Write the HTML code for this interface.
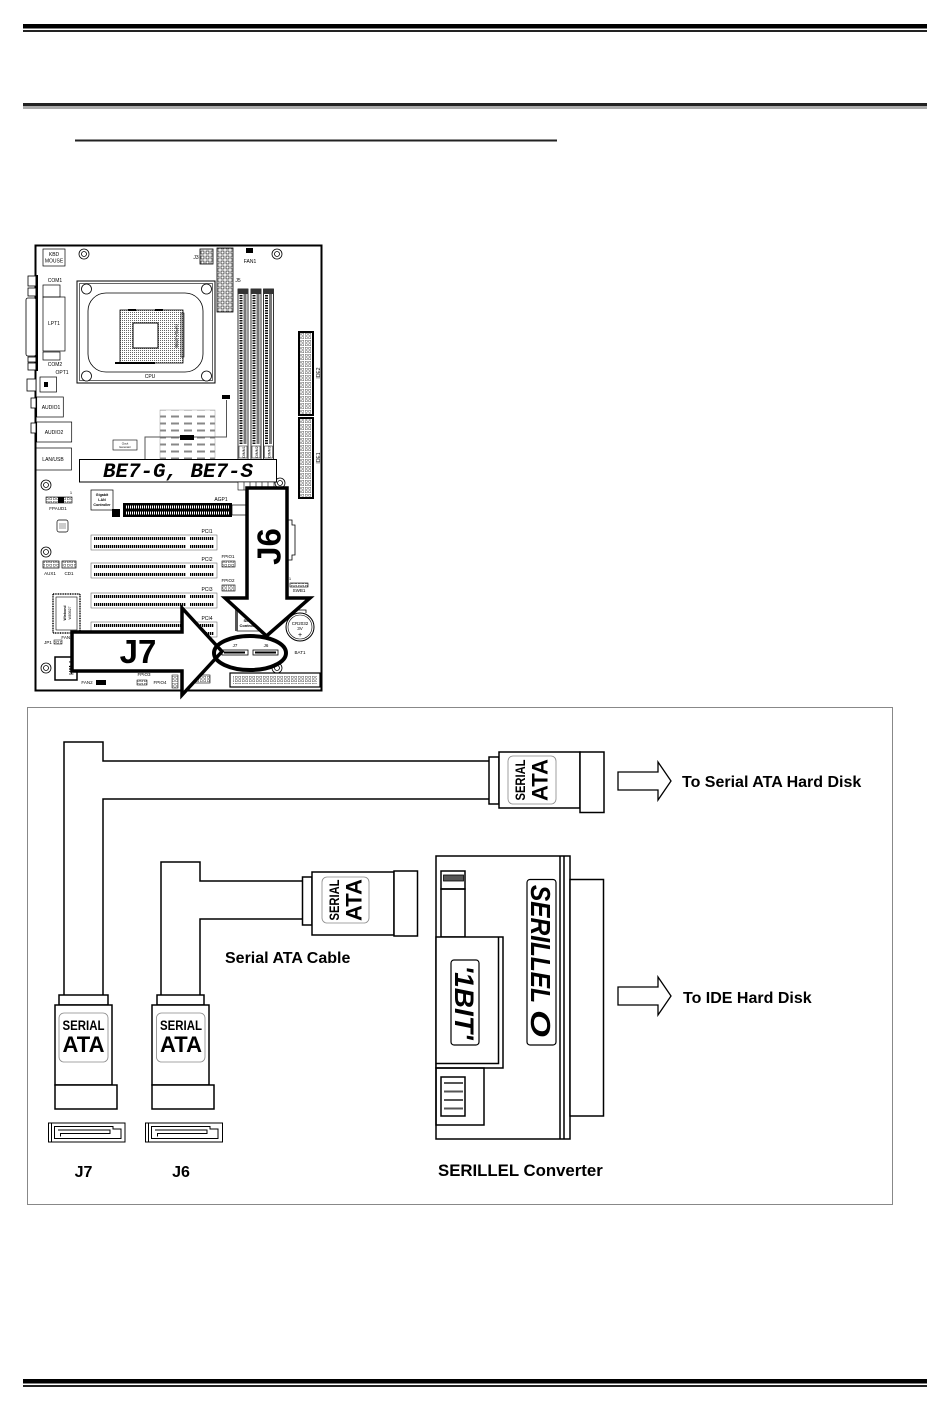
<!DOCTYPE html>
<html><head><meta charset="utf-8"><style>
html,body{margin:0;padding:0;background:#fff;}
svg{display:block}
text{font-family:"Liberation Sans",Arial,sans-serif;}
text.mono{font-family:"Liberation Mono","DejaVu Sans Mono",monospace;}
</style></head><body>
<svg width="950" height="1411" viewBox="0 0 950 1411" xmlns="http://www.w3.org/2000/svg">
<defs>
 <pattern id="dots" width="2" height="2" patternUnits="userSpaceOnUse"><rect width="2" height="2" fill="#fff"/><rect width="1" height="1" fill="#666"/></pattern>
 <pattern id="pins" width="3.5" height="3.5" patternUnits="userSpaceOnUse"><rect width="3.5" height="3.5" fill="#fff"/><rect x="0.8" y="0.8" width="1.9" height="1.9" fill="#fff" stroke="#333" stroke-width="0.4"/></pattern>
 <pattern id="pinsL" width="5" height="5" patternUnits="userSpaceOnUse"><rect width="5" height="5" fill="#fff"/><rect x="1" y="1" width="3" height="3" fill="#fff" stroke="#000" stroke-width="0.6"/></pattern>
 <pattern id="hs" width="13" height="7" patternUnits="userSpaceOnUse"><rect width="13" height="7" fill="#fff"/><rect x="2" y="2.5" width="8" height="2" fill="#888"/></pattern>
 <pattern id="pcid" width="2" height="4" patternUnits="userSpaceOnUse"><rect width="1.3" height="4" fill="#000"/></pattern>
 <pattern id="wd" width="2" height="4" patternUnits="userSpaceOnUse"><rect width="2" height="4" fill="#000"/><rect width="1" height="4" fill="#fff"/></pattern>
 <pattern id="dimm" width="4" height="2.5" patternUnits="userSpaceOnUse"><rect width="4" height="2.5" fill="#fff"/><rect width="4" height="1.5" fill="#111"/></pattern>
</defs>

<!-- header lines -->
<rect x="23" y="24" width="904" height="4.5" fill="#000"/>
<rect x="23" y="30" width="904" height="2" fill="#222"/>
<rect x="23" y="103" width="904" height="3" fill="#222"/>
<rect x="23" y="106" width="904" height="3" fill="#aaa"/>
<rect x="75" y="139.5" width="482" height="2" fill="#222"/>

<!-- footer lines -->
<rect x="23" y="1379" width="904" height="4.5" fill="#000"/>
<rect x="23" y="1385" width="904" height="2" fill="#222"/>

<!-- ================= MOTHERBOARD ================= -->
<rect x="35.5" y="245.5" width="286" height="445" fill="#fff" stroke="#000" stroke-width="2"/>

<!-- left ports protruding -->
<g stroke="#000" stroke-width="0.8" fill="#fff">
 <rect x="28" y="276" width="8" height="10"/>
 <rect x="28" y="288" width="8" height="8"/>
 <rect x="26" y="298" width="10" height="58" rx="2"/>
 <rect x="28" y="357" width="8" height="5"/>
 <rect x="28" y="363" width="8" height="7"/>
 <rect x="27" y="379" width="9" height="12"/>
 <rect x="31" y="398" width="5" height="10"/>
 <rect x="31" y="423" width="5" height="10"/>
</g>
<rect x="35.5" y="275" width="2.5" height="96" fill="#000"/>

<g fill="none" stroke="#000" stroke-width="0.7">
 <rect x="43" y="249" width="22" height="17"/>
 <rect x="43" y="285" width="17" height="12"/>
 <rect x="43" y="297" width="22" height="54"/>
 <rect x="43" y="352" width="17" height="8"/>
 <rect x="40" y="377" width="16.5" height="15"/>
 <rect x="36.7" y="397" width="26.6" height="20"/>
 <rect x="36.7" y="422" width="35" height="20"/>
 <rect x="35.5" y="448" width="36" height="22"/>
</g>
<rect x="44" y="382" width="4" height="5" fill="#000"/>
<g font-size="5" fill="#000" text-anchor="middle">
 <text x="54" y="256">KBD</text>
 <text x="54" y="262.5">MOUSE</text>
 <text x="55" y="282">COM1</text>
 <text x="54" y="325">LPT1</text>
 <text x="55" y="366">COM2</text>
 <text x="62" y="374">OPT1</text>
 <text x="51" y="409">AUDIO1</text>
 <text x="54" y="434">AUDIO2</text>
 <text x="53" y="461">LAN/USB</text>
</g>

<!-- mounting holes -->
<g fill="#fff" stroke="#000" stroke-width="0.8">
 <circle cx="84" cy="254" r="5"/><circle cx="84" cy="254" r="2.5"/>
 <circle cx="277" cy="254" r="5"/><circle cx="277" cy="254" r="2.5"/>
 <circle cx="46" cy="485" r="5"/><circle cx="46" cy="485" r="2.5"/>
 <circle cx="46" cy="552" r="5"/><circle cx="46" cy="552" r="2.5"/>
 <circle cx="46" cy="668" r="5"/><circle cx="46" cy="668" r="2.5"/>
 <circle cx="277" cy="668" r="5"/><circle cx="277" cy="668" r="2.5"/>
 <circle cx="280" cy="483" r="5"/><circle cx="280" cy="483" r="2.5"/>
</g>

<!-- CPU -->
<rect x="77" y="281" width="138" height="102" fill="#fff" stroke="#000" stroke-width="1"/>
<rect x="79.5" y="283.5" width="133" height="97" fill="none" stroke="#000" stroke-width="0.6"/>
<rect x="88" y="293" width="115" height="79" rx="18" fill="none" stroke="#000" stroke-width="0.8"/>
<g fill="#fff" stroke="#000" stroke-width="0.8">
 <circle cx="86.5" cy="289" r="5"/><circle cx="206.5" cy="289" r="5"/>
 <circle cx="86.5" cy="376" r="5"/><circle cx="206.5" cy="376" r="5"/>
</g>
<rect x="120" y="310" width="63" height="53" fill="url(#dots)" stroke="#000" stroke-width="0.8"/>
<rect x="133" y="323" width="25" height="25" fill="#fff" stroke="#000" stroke-width="1"/>
<rect x="128" y="309" width="8" height="2" fill="#000"/>
<rect x="155" y="309" width="8" height="2" fill="#000"/>
<rect x="115" y="362" width="40" height="2" fill="#000"/>
<rect x="181" y="313" width="3" height="44" fill="none" stroke="#000" stroke-width="0.6"/>
<text x="150" y="378" font-size="5" text-anchor="middle">CPU</text>
<text transform="translate(175,336) rotate(90)" font-size="4.5" text-anchor="middle">mPGA478B</text>

<!-- J3, J5, FAN1 -->
<rect x="200" y="249" width="13" height="15" fill="url(#pinsL)" stroke="#000" stroke-width="0.8"/>
<text x="196" y="259" font-size="5" text-anchor="middle">J3</text>
<rect x="217" y="248" width="16" height="64" fill="url(#pinsL)" stroke="#000" stroke-width="0.8"/>
<text x="238" y="282" font-size="5" text-anchor="middle">J5</text>
<rect x="246" y="248" width="7" height="5" fill="#000"/>
<text x="250" y="263" font-size="5" text-anchor="middle">FAN1</text>

<!-- DIMMs -->
<g>
 <rect x="238" y="289" width="10" height="173" fill="#fff" stroke="#000" stroke-width="0.8"/>
 <rect x="239.5" y="294" width="3" height="150" fill="url(#dimm)"/>
 <rect x="243.5" y="294" width="3" height="150" fill="#777"/>
 <rect x="238" y="289" width="10" height="5" fill="#333"/>
 <rect x="251" y="289" width="10" height="173" fill="#fff" stroke="#000" stroke-width="0.8"/>
 <rect x="252.5" y="294" width="3" height="150" fill="url(#dimm)"/>
 <rect x="256.5" y="294" width="3" height="150" fill="#777"/>
 <rect x="251" y="289" width="10" height="5" fill="#333"/>
 <rect x="263.5" y="289" width="10" height="173" fill="#fff" stroke="#000" stroke-width="0.8"/>
 <rect x="265" y="294" width="3" height="150" fill="url(#dimm)"/>
 <rect x="269" y="294" width="3" height="150" fill="#777"/>
 <rect x="263.5" y="289" width="10" height="5" fill="#333"/>
 <rect x="239" y="446" width="8" height="12" fill="#fff" stroke="#000" stroke-width="0.5"/>
 <rect x="252" y="446" width="8" height="12" fill="#fff" stroke="#000" stroke-width="0.5"/>
 <rect x="264.5" y="446" width="8" height="12" fill="#fff" stroke="#000" stroke-width="0.5"/>
 <text transform="translate(245,452) rotate(-90)" font-size="3.5" text-anchor="middle">DIMM1</text>
 <text transform="translate(258,452) rotate(-90)" font-size="3.5" text-anchor="middle">DIMM2</text>
 <text transform="translate(270.5,452) rotate(-90)" font-size="3.5" text-anchor="middle">DIMM3</text>
</g>

<!-- IDE -->
<rect x="299" y="332" width="14" height="83" fill="url(#pins)" stroke="#000" stroke-width="2"/>
<text transform="translate(320,373) rotate(-90)" font-size="5" text-anchor="middle">IDE2</text>
<rect x="299" y="418" width="14" height="80" fill="url(#pins)" stroke="#000" stroke-width="2"/>
<text transform="translate(320,458) rotate(-90)" font-size="5" text-anchor="middle">IDE1</text>

<!-- Northbridge heatsink -->
<rect x="160" y="410" width="55" height="51" fill="url(#hs)" stroke="#999" stroke-width="0.5"/>
<rect x="180" y="435" width="14" height="5" fill="#000"/>
<path d="M145 461 V437 H180 M194 437 H215 M226.5 400 V437 H215" fill="none" stroke="#555" stroke-width="1"/>
<rect x="222" y="395" width="8" height="4" fill="#000"/>
<rect x="113" y="440" width="24" height="10" fill="#fff" stroke="#000" stroke-width="0.6"/>
<text x="125" y="444.5" font-size="2.6" text-anchor="middle">Clock</text>
<text x="125" y="448" font-size="2.6" text-anchor="middle">Generator</text>

<!-- model label -->
<rect x="79.5" y="459.5" width="197" height="22.5" fill="#fff" stroke="#000" stroke-width="1"/>
<text class="mono" x="103" y="477" font-size="20.5" font-weight="bold" font-style="italic" fill="#000" textLength="150" lengthAdjust="spacingAndGlyphs">BE7-G, BE7-S</text>

<!-- row below label -->
<rect x="238" y="482" width="36" height="8" fill="#fff" stroke="#000" stroke-width="0.6"/>
<path d="M244 482V490M250 482V490M256 482V490M262 482V490M268 482V490" stroke="#000" stroke-width="0.6"/>

<!-- Gigabit LAN -->
<rect x="91" y="490" width="22" height="20" fill="#fff" stroke="#000" stroke-width="0.7"/>
<g font-size="3.6" font-weight="bold" text-anchor="middle">
 <text x="102" y="496">Gigabit</text><text x="102" y="501">LAN</text><text x="102" y="506">Controller</text>
</g>
<!-- FPAUD1 -->
<rect x="46" y="497" width="26" height="6" fill="url(#pins)" stroke="#000" stroke-width="0.6"/>
<rect x="58" y="497" width="6" height="6" fill="#000"/>
<text x="58" y="510" font-size="4.5" text-anchor="middle">FPAUD1</text>
<text x="71" y="494" font-size="4" text-anchor="middle">1</text>
<rect x="57" y="520" width="11" height="12" rx="2" fill="#fff" stroke="#000" stroke-width="0.7"/>
<rect x="59" y="523" width="7" height="6" fill="#ccc"/>

<!-- AGP -->
<rect x="112" y="509" width="8" height="8" fill="#000"/>
<rect x="123" y="503" width="109" height="14" fill="#000"/>
<rect x="126" y="505.5" width="103" height="3" fill="url(#wd)"/>
<rect x="126" y="511.5" width="103" height="3" fill="url(#wd)"/>
<rect x="232" y="505" width="15" height="10" fill="#fff" stroke="#000" stroke-width="0.7"/>
<text x="221" y="501" font-size="5" text-anchor="middle">AGP1</text>

<!-- PCI slots -->
<g>
 <rect x="91" y="535" width="126" height="15" fill="#fff" stroke="#555" stroke-width="0.5"/>
 <rect x="94" y="537" width="92" height="3" fill="url(#pcid)"/><rect x="94" y="545" width="92" height="3" fill="url(#pcid)"/>
 <rect x="190" y="537" width="24" height="3" fill="url(#pcid)"/><rect x="190" y="545" width="24" height="3" fill="url(#pcid)"/>
 <rect x="91" y="563" width="126" height="15" fill="#fff" stroke="#555" stroke-width="0.5"/>
 <rect x="94" y="565" width="92" height="3" fill="url(#pcid)"/><rect x="94" y="573" width="92" height="3" fill="url(#pcid)"/>
 <rect x="190" y="565" width="24" height="3" fill="url(#pcid)"/><rect x="190" y="573" width="24" height="3" fill="url(#pcid)"/>
 <rect x="91" y="593" width="126" height="15" fill="#fff" stroke="#555" stroke-width="0.5"/>
 <rect x="94" y="595" width="92" height="3" fill="url(#pcid)"/><rect x="94" y="603" width="92" height="3" fill="url(#pcid)"/>
 <rect x="190" y="595" width="24" height="3" fill="url(#pcid)"/><rect x="190" y="603" width="24" height="3" fill="url(#pcid)"/>
 <rect x="91" y="622" width="126" height="15" fill="#fff" stroke="#555" stroke-width="0.5"/>
 <rect x="94" y="624" width="92" height="3" fill="url(#pcid)"/><rect x="94" y="632" width="92" height="3" fill="url(#pcid)"/>
 <rect x="190" y="624" width="24" height="3" fill="url(#pcid)"/><rect x="190" y="632" width="24" height="3" fill="url(#pcid)"/>
</g>
<g font-size="5" text-anchor="middle">
 <text x="207" y="533">PCI1</text><text x="207" y="561">PCI2</text><text x="207" y="591">PCI3</text><text x="207" y="620">PCI4</text>
</g>

<!-- AUX1 CD1 -->
<rect x="43" y="561" width="16" height="7" fill="url(#pins)" stroke="#000" stroke-width="0.7"/>
<rect x="62" y="561" width="14" height="7" fill="url(#pins)" stroke="#000" stroke-width="0.7"/>
<text x="50" y="575" font-size="4.5" text-anchor="middle">AUX1</text>
<text x="69" y="575" font-size="4.5" text-anchor="middle">CD1</text>

<!-- FPIO1, FPIO2, SWB1 -->
<rect x="222" y="561" width="13" height="6" fill="url(#pins)" stroke="#000" stroke-width="0.6"/>
<text x="228" y="558" font-size="4.5" text-anchor="middle">FPIO1</text>
<rect x="222" y="585" width="13" height="6" fill="url(#pins)" stroke="#000" stroke-width="0.6"/>
<text x="228" y="582" font-size="4.5" text-anchor="middle">FPIO2</text>
<rect x="290" y="583" width="18" height="4" fill="url(#pins)" stroke="#000" stroke-width="0.6"/>
<text x="299" y="592" font-size="4.5" text-anchor="middle">SWB1</text>
<text x="290" y="580" font-size="4" text-anchor="middle">1</text>
<path d="M288 520 H292 V525 H295 V555 H292 V560 H288" fill="none" stroke="#000" stroke-width="0.8"/>

<!-- Winbond -->
<rect x="53" y="594" width="27" height="39" fill="#fff" stroke="#000" stroke-width="1.5" stroke-dasharray="1 0.7"/>
<rect x="56" y="597" width="21" height="33" fill="#fff" stroke="#000" stroke-width="0.6"/>
<text transform="translate(66,613) rotate(-90)" font-size="3.5" text-anchor="middle" font-weight="bold">Winbond</text>
<text transform="translate(71,613) rotate(-90)" font-size="3.5" text-anchor="middle">W83627</text>
<text x="67" y="639" font-size="4.5" text-anchor="middle">FAN3</text>
<text x="48" y="644" font-size="4.5" text-anchor="middle">JP1</text>
<rect x="54" y="640" width="8" height="4" fill="url(#pins)" stroke="#000" stroke-width="0.5"/>
<rect x="55" y="657" width="22" height="23" fill="#fff" stroke="#000" stroke-width="1.5"/>
<text transform="translate(69,668) rotate(90)" font-size="6" font-weight="bold" text-anchor="middle">FWH</text>
<text x="87" y="684" font-size="4.5" text-anchor="middle">FAN2</text>
<rect x="96" y="680" width="10" height="5" fill="#000"/>
<text x="144" y="676" font-size="4.5" text-anchor="middle">FPIO3</text>
<rect x="137" y="680" width="10" height="5" fill="url(#pins)" stroke="#000" stroke-width="0.5"/>
<text x="160" y="684" font-size="4.5" text-anchor="middle">FPIO4</text>
<rect x="172" y="675" width="6" height="13" fill="url(#pins)" stroke="#000" stroke-width="0.5"/>
<rect x="194" y="675" width="16" height="8" fill="url(#pins)" stroke="#000" stroke-width="0.6"/>
<rect x="230" y="673" width="90" height="14" fill="#fff" stroke="#000" stroke-width="1.2"/>
<rect x="233" y="676" width="84" height="8" fill="url(#pins)"/>

<!-- Battery -->
<circle cx="300" cy="627" r="14" fill="#fff" stroke="#000" stroke-width="1"/>
<circle cx="300" cy="627" r="12" fill="none" stroke="#000" stroke-width="0.6"/>
<path d="M294 613 V610 H306 V613" fill="none" stroke="#000" stroke-width="0.8"/>
<g font-size="4.5" text-anchor="middle">
 <text x="300" y="625">CR2032</text><text x="300" y="630">3V</text>
 <text x="300" y="637" font-size="7">+</text>
 <text x="300" y="654">BAT1</text>
</g>

<!-- Serial controller -->
<rect x="237" y="603" width="23" height="28" fill="#fff" stroke="#000" stroke-width="0.7"/>
<rect x="235" y="603" width="3" height="28" fill="#555"/>
<text x="249" y="622" font-size="4" font-weight="bold" text-anchor="middle">Serial</text>
<text x="249" y="627" font-size="4" font-weight="bold" text-anchor="middle">Controller</text>

<!-- SATA connectors inside ellipse -->
<text x="235" y="647" font-size="4.5" text-anchor="middle">J7</text>
<rect x="222" y="650" width="26" height="5" fill="#fff" stroke="#000" stroke-width="0.8"/>
<rect x="224" y="651.5" width="21" height="2" fill="#000"/>
<text x="266" y="647" font-size="4.5" text-anchor="middle">J6</text>
<rect x="253" y="650" width="25" height="5" fill="#fff" stroke="#000" stroke-width="0.8"/>
<rect x="255" y="651.5" width="21" height="2" fill="#000"/>

<!-- J6 arrow -->
<polygon points="247,488 287,488 287,598 310,598 266.5,636 225,598 247,598" fill="#fff" stroke="#000" stroke-width="3.5" stroke-linejoin="miter"/>
<text transform="translate(280.5,546.5) rotate(-90)" font-size="33" font-weight="bold" text-anchor="middle">J6</text>

<!-- J7 arrow -->
<polygon points="72,632 182,632 182,608 222,651.5 182,695 182,671 72,671" fill="#fff" stroke="#000" stroke-width="3.5" stroke-linejoin="miter"/>
<text x="138" y="663" font-size="33" font-weight="bold" text-anchor="middle">J7</text>

<!-- ellipse -->
<ellipse cx="250" cy="653" rx="36" ry="17" fill="none" stroke="#000" stroke-width="4"/>

<!-- ================= CABLE DIAGRAM FRAME ================= -->
<rect x="27.5" y="707.5" width="865" height="497" fill="none" stroke="#888" stroke-width="1"/>

<g fill="none" stroke="#000" stroke-width="1.5">
 <!-- J7 cable -->
 <path d="M64 995 V742 H103 V761 H489 M489 799 H103 V995"/>
 <rect x="489" y="757" width="10" height="47" fill="#fff"/>
 <rect x="499" y="752" width="81" height="56" fill="#fff"/>
 <rect x="580" y="752" width="24" height="60.5" fill="#fff"/>
 <!-- J6 cable -->
 <path d="M161 995 V862 H200 V881 H302.5 M302.5 919 H200 V995"/>
 <rect x="302.5" y="877" width="9.5" height="48" fill="#fff"/>
 <rect x="312" y="872" width="82" height="63" fill="#fff"/>
 <rect x="394" y="871" width="23.5" height="65" fill="#fff"/>
 <!-- J7 bottom connector -->
 <rect x="59" y="995" width="49" height="10" fill="#fff"/>
 <rect x="55" y="1005" width="57" height="80" fill="#fff"/>
 <rect x="55" y="1085" width="62" height="24" fill="#fff"/>
 <!-- J6 bottom connector -->
 <rect x="157" y="995" width="47" height="10" fill="#fff"/>
 <rect x="152" y="1005" width="57" height="80" fill="#fff"/>
 <rect x="152" y="1085" width="62" height="24" fill="#fff"/>
</g>

<!-- labels on connectors -->
<g fill="none" stroke="#888" stroke-width="0.8">
 <rect x="508" y="756" width="48" height="48" rx="5"/>
 <rect x="322" y="877" width="47" height="46" rx="5"/>
 <rect x="59" y="1013" width="49" height="49" rx="5"/>
 <rect x="156.5" y="1013" width="48.5" height="49" rx="5"/>
</g>
<g font-weight="bold" fill="#000" text-anchor="middle">
 <text transform="translate(525,780) rotate(-90)" font-size="13.5" textLength="41" lengthAdjust="spacingAndGlyphs">SERIAL</text>
 <text transform="translate(547.5,780) rotate(-90)" font-size="22">ATA</text>
 <text transform="translate(339,900) rotate(-90)" font-size="13.5" textLength="41" lengthAdjust="spacingAndGlyphs">SERIAL</text>
 <text transform="translate(361.5,900) rotate(-90)" font-size="22">ATA</text>
 <text x="83.5" y="1030" font-size="13.5" textLength="42" lengthAdjust="spacingAndGlyphs">SERIAL</text>
 <text x="83.5" y="1052" font-size="22">ATA</text>
 <text x="181" y="1030" font-size="13.5" textLength="42" lengthAdjust="spacingAndGlyphs">SERIAL</text>
 <text x="181" y="1052" font-size="22">ATA</text>
</g>

<!-- SATA sockets -->
<g fill="none" stroke="#000" stroke-width="1">
 <rect x="48.5" y="1123" width="76.5" height="19"/>
 <path d="M51.5 1123 V1142"/>
 <path d="M54.5 1126.5 H113 V1129 H121 V1138.5 H54.5 Z"/>
 <path d="M58 1130 H110 V1133.5 H60.5 V1136.5"/>
 <rect x="145.5" y="1123" width="77" height="19"/>
 <path d="M148.5 1123 V1142"/>
 <path d="M151.5 1126.5 H210 V1129 H218 V1138.5 H151.5 Z"/>
 <path d="M155 1130 H207 V1133.5 H157.5 V1136.5"/>
</g>

<!-- SERILLEL converter -->
<g fill="none" stroke="#000" stroke-width="1.5">
 <rect x="436" y="856" width="134" height="283" fill="#fff"/>
 <path d="M560 856 V1139 M564 856 V1139"/>
 <rect x="570" y="879.5" width="33.5" height="236.5" fill="#fff"/>
 <rect x="441" y="871" width="24" height="18"/>
 <rect x="441" y="889" width="24" height="48"/>
 <rect x="436" y="937" width="67" height="131" fill="#fff"/>
 <path d="M498.5 937 V1063.5 H436"/>
 <rect x="436" y="1068" width="48" height="57"/>
 <rect x="441" y="1077" width="24" height="39"/>
</g>
<rect x="443.5" y="875" width="20" height="6" fill="#555" stroke="#000" stroke-width="0.8"/>
<g fill="#555">
 <rect x="444" y="1082" width="19" height="2"/>
 <rect x="444" y="1090.5" width="19" height="2"/>
 <rect x="444" y="1099" width="19" height="2"/>
 <rect x="444" y="1107.5" width="19" height="2"/>
</g>
<rect x="451" y="960" width="28" height="85" rx="3" fill="#fff" stroke="#000" stroke-width="1.2"/>
<text transform="translate(455,1002.5) rotate(90)" font-size="27" font-weight="900" font-style="italic" text-anchor="middle" textLength="74" lengthAdjust="spacingAndGlyphs">'1BIT'</text>
<rect x="527" y="879.5" width="29" height="165.5" rx="3" fill="#fff" stroke="#000" stroke-width="1.2"/>
<text transform="translate(531,885) rotate(90)" font-size="28" font-weight="900" font-style="italic" textLength="118" lengthAdjust="spacingAndGlyphs">SERILLEL</text>
<text transform="translate(531,1010) rotate(90)" font-size="28" font-weight="900" font-style="italic" textLength="27" lengthAdjust="spacingAndGlyphs">O</text>

<!-- hollow arrows -->
<g fill="#fff" stroke="#000" stroke-width="1.3" stroke-linejoin="miter">
 <polygon points="618,772 658,772 658,762 671,781 658,800 658,790 618,790"/>
 <polygon points="618,987 658,987 658,977 671,996 658,1015 658,1005 618,1005"/>
</g>

<!-- text labels -->
<g font-weight="bold" font-size="16" fill="#000">
 <text x="682" y="787">To Serial ATA Hard Disk</text>
 <text x="683" y="1003">To IDE Hard Disk</text>
 <text x="225" y="963">Serial ATA Cable</text>
 <text x="83.5" y="1177" text-anchor="middle">J7</text>
 <text x="181" y="1177" text-anchor="middle">J6</text>
 <text x="438" y="1176" font-size="16.8">SERILLEL Converter</text>
</g>
</svg>
</body></html>
